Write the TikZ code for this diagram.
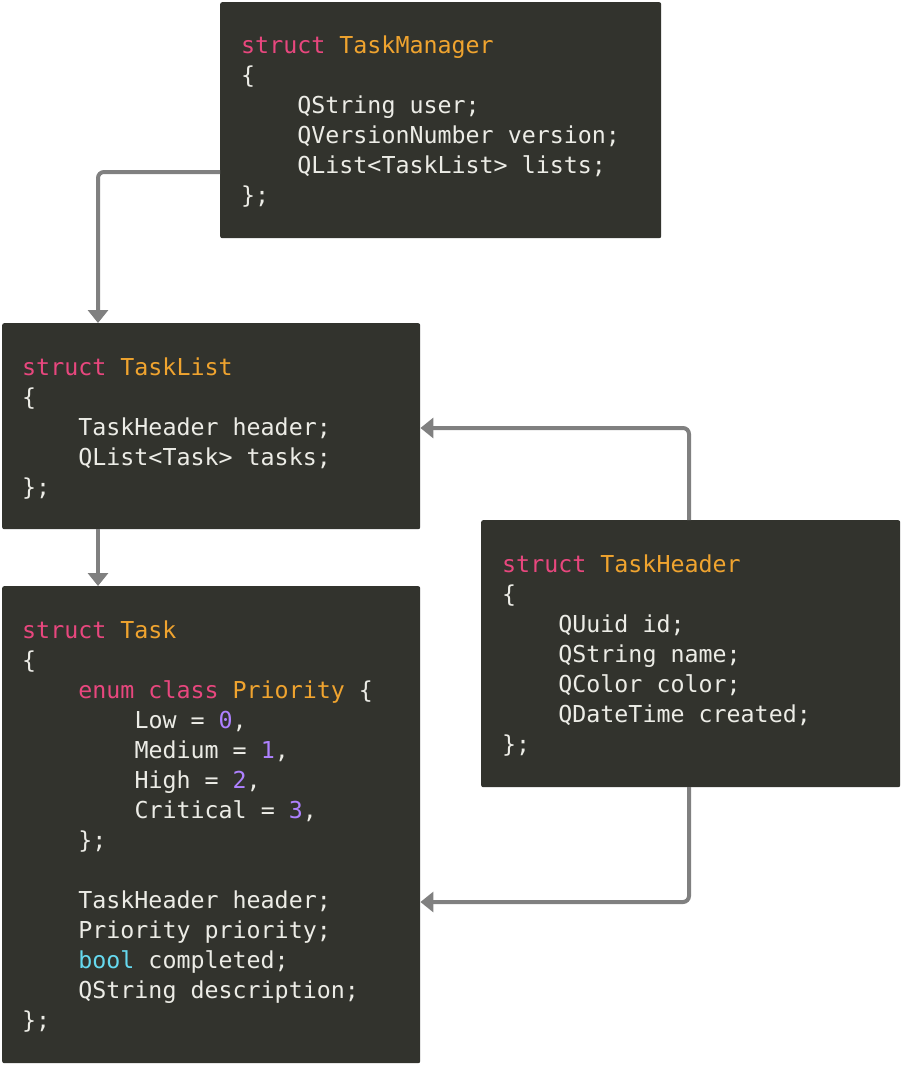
\documentclass[tikz,border=0pt]{standalone}
\usepackage{fontspec}
\newfontfamily\codefont{DejaVu Sans Mono}
\usetikzlibrary{arrows.meta}
\definecolor{bg}{HTML}{32332D}
\definecolor{kwc}{HTML}{E8477E}
\definecolor{tyc}{HTML}{F0A42F}
\definecolor{nmc}{HTML}{AE81FF}
\definecolor{blc}{HTML}{66D9EF}
\definecolor{txc}{HTML}{ECECE6}
\definecolor{arc}{HTML}{808080}
\newcommand\kw[1]{\textcolor{kwc}{#1}}
\newcommand\ty[1]{\textcolor{tyc}{#1}}
\newcommand\nm[1]{\textcolor{nmc}{#1}}
\newcommand\bl[1]{\textcolor{blc}{#1}}
\newcommand\ind[1]{\hspace*{#1\dimexpr 14.04pt\relax}}
\newcommand\cl[4]{\node[code] (#1) at (#2,#3) {#4};}
\tikzset{
  box/.style={fill=bg,draw=none,rounded corners=2pt,anchor=north west,inner sep=0,minimum width=#1},
  code/.style={anchor=base west,inner sep=0,text=txc,font=\codefont\fontsize{23.3}{30}\selectfont},
  conn/.style={draw=arc,line width=4pt,rounded corners=6pt,-{Triangle[length=13pt,width=20pt]}}
}
\begin{document}
\begin{tikzpicture}[x=1pt,y=-1pt]
\useasboundingbox (0,0) rectangle (900,1065);
\node[box=441pt,minimum height=236pt] (tm) at (220,2) {};
\node[box=418pt,minimum height=206pt] (tl) at (2,323) {};
\node[box=418pt,minimum height=477pt] (t) at (2,586) {};
\node[box=419pt,minimum height=267pt] (th) at (481,520) {};
% TaskManager
\cl{tm1}{241}{53}{\kw{struct} \ty{TaskManager}}
\cl{tm2}{241}{83}{\{}
\cl{tm3}{241}{113}{\ind4QString user;}
\cl{tm4}{241}{143}{\ind4QVersionNumber version;}
\cl{tm5}{241}{173}{\ind4QList<TaskList> lists;}
\cl{tm6}{241}{203}{\};}
% TaskList
\cl{tl1}{22}{375}{\kw{struct} \ty{TaskList}}
\cl{tl2}{22}{405}{\{}
\cl{tl3}{22}{435}{\ind4TaskHeader header;}
\cl{tl4}{22}{465}{\ind4QList<Task> tasks;}
\cl{tl5}{22}{495}{\};}
% Task
\cl{t1}{22}{638}{\kw{struct} \ty{Task}}
\cl{t2}{22}{668}{\{}
\cl{t3}{22}{698}{\ind4\kw{enum} \kw{class} \ty{Priority} \{}
\cl{t4}{22}{728}{\ind8Low = \nm{0},}
\cl{t5}{22}{758}{\ind8Medium = \nm{1},}
\cl{t6}{22}{788}{\ind8High = \nm{2},}
\cl{t7}{22}{818}{\ind8Critical = \nm{3},}
\cl{t8}{22}{848}{\ind4\};}
\cl{t9}{22}{908}{\ind4TaskHeader header;}
\cl{t10}{22}{938}{\ind4Priority priority;}
\cl{t11}{22}{968}{\ind4\bl{bool} completed;}
\cl{t12}{22}{998}{\ind4QString description;}
\cl{t13}{22}{1028}{\};}
% TaskHeader
\cl{th1}{502}{572}{\kw{struct} \ty{TaskHeader}}
\cl{th2}{502}{602}{\{}
\cl{th3}{502}{632}{\ind4QUuid id;}
\cl{th4}{502}{662}{\ind4QString name;}
\cl{th5}{502}{692}{\ind4QColor color;}
\cl{th6}{502}{722}{\ind4QDateTime created;}
\cl{th7}{502}{752}{\};}
% connectors
\draw[conn] (tm.west |- 0,172) -- (98,172) -- (98,323);
\draw[conn] (98,529) -- (98,586);
\draw[conn] (689,520) -- (689,428) -- (tl.east |- 0,428);
\draw[conn] (689,787) -- (689,902) -- (t.east |- 0,902);
\end{tikzpicture}
\end{document}
